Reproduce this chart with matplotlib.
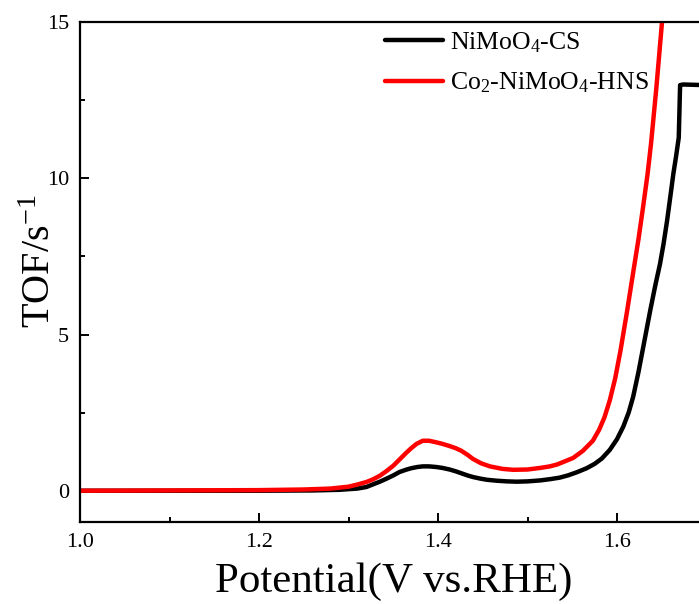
import matplotlib
matplotlib.use("Agg")
import matplotlib.pyplot as plt
from matplotlib.ticker import MultipleLocator

plt.rcParams['font.family'] = ['Liberation Serif', 'DejaVu Serif']
plt.rcParams['mathtext.fontset'] = 'custom'
plt.rcParams['mathtext.rm'] = 'Liberation Serif'
plt.rcParams['mathtext.it'] = 'Liberation Serif:italic'
plt.rcParams['mathtext.bf'] = 'Liberation Serif:bold'

# Turnover frequency vs. potential, NiMoO4-CS
potential_cs = [1.00, 1.10, 1.20, 1.26, 1.29, 1.31, 1.320, 1.327, 1.335, 1.342,
                1.350, 1.357, 1.364, 1.370, 1.377, 1.383, 1.390, 1.398, 1.405,
                1.413, 1.420, 1.426, 1.433, 1.439, 1.447, 1.455, 1.466, 1.477,
                1.488, 1.500, 1.514, 1.525, 1.536, 1.545, 1.555, 1.566, 1.575,
                1.583, 1.592, 1.600, 1.607, 1.613, 1.618, 1.624, 1.631, 1.637,
                1.643, 1.648, 1.652, 1.656, 1.660, 1.663, 1.666, 1.669, 1.6705,
                1.674, 1.71]
tof_cs = [0.00, 0.00, 0.00, 0.01, 0.03, 0.07, 0.12, 0.20, 0.29, 0.38,
          0.49, 0.60, 0.67, 0.72, 0.76, 0.78, 0.78, 0.76, 0.73,
          0.68, 0.62, 0.56, 0.49, 0.44, 0.39, 0.35, 0.32, 0.30,
          0.29, 0.30, 0.33, 0.37, 0.42, 0.49, 0.59, 0.72, 0.86,
          1.03, 1.31, 1.65, 2.05, 2.50, 3.00, 3.80, 4.85, 5.75,
          6.60, 7.25, 7.90, 8.65, 9.50, 10.15, 10.70, 11.30, 12.98,
          13.00, 12.97]

# Turnover frequency vs. potential, Co2-NiMoO4-HNS
potential_hns = [1.00, 1.10, 1.20, 1.25, 1.28, 1.29, 1.30, 1.31, 1.320, 1.327,
                 1.335, 1.342, 1.350, 1.357, 1.364, 1.370, 1.376, 1.383, 1.390,
                 1.398, 1.405, 1.413, 1.420, 1.426, 1.433, 1.439, 1.448, 1.458,
                 1.472, 1.484, 1.500, 1.514, 1.525, 1.533, 1.540, 1.551, 1.562,
                 1.573, 1.580, 1.586, 1.592, 1.598, 1.604, 1.611, 1.618, 1.624,
                 1.629, 1.634, 1.638, 1.644, 1.6503, 1.654]
tof_hns = [0.00, 0.01, 0.02, 0.04, 0.07, 0.10, 0.13, 0.20, 0.28, 0.36,
           0.48, 0.62, 0.80, 1.00, 1.20, 1.36, 1.50, 1.60, 1.60,
           1.55, 1.50, 1.43, 1.36, 1.28, 1.15, 1.02, 0.88, 0.78,
           0.70, 0.67, 0.68, 0.73, 0.78, 0.84, 0.92, 1.05, 1.28,
           1.60, 1.95, 2.35, 2.90, 3.60, 4.50, 5.70, 6.97, 8.05,
           9.05, 10.10, 11.10, 12.90, 15.00, 16.30]

x_ticks = [1.0, 1.2, 1.4, 1.6]
x_tick_labels = ["1.0", "1.2", "1.4", "1.6"]
y_ticks = [0, 5, 10, 15]
y_tick_labels = ["0", "5", "10", "15"]

fig = plt.figure(figsize=(6.99, 6.04), dpi=100)
ax = fig.add_axes([80 / 699, 82 / 604, 626.5 / 699, 500 / 604])

ax.plot(potential_cs, tof_cs, color='black', lw=3.2, label='NiMoO$_4$-CS',
        solid_capstyle='round', solid_joinstyle='round')
ax.plot(potential_hns, tof_hns, color='#ff0000', lw=3.2, label='Co$_2$-NiMoO$_4$-HNS',
        solid_capstyle='round', solid_joinstyle='round')

ax.set_xlim(1.0, 1.7)
ax.set_ylim(-1, 15)
ax.set_xticks(x_ticks)
ax.set_xticklabels(x_tick_labels)
ax.set_yticks(y_ticks)
ax.set_yticklabels(y_tick_labels)
ax.xaxis.set_minor_locator(MultipleLocator(0.1))
ax.yaxis.set_minor_locator(MultipleLocator(2.5))

ax.tick_params(which='both', direction='in', width=1.4, labelsize=16, pad=8)
ax.tick_params(which='major', length=6.5)
ax.tick_params(which='minor', length=3.6)
for side in ['left', 'bottom', 'top', 'right']:
    ax.spines[side].set_linewidth(1.6)

ax.set_xlabel('Potential(V vs.RHE)', fontsize=31)
ax.set_ylabel('TOF/s$^{-1}$', fontsize=29)
ax.xaxis.set_label_coords(0.5, -0.08)
ax.yaxis.set_label_coords(-0.034, 0.522)

ax.legend(loc='upper left', bbox_to_anchor=(0.487, 0.984), frameon=False,
          fontsize=18.5, borderpad=0, borderaxespad=0, handlelength=2.26,
          handletextpad=0.25, labelspacing=0.62)

fig.savefig('out.png', dpi=100)
